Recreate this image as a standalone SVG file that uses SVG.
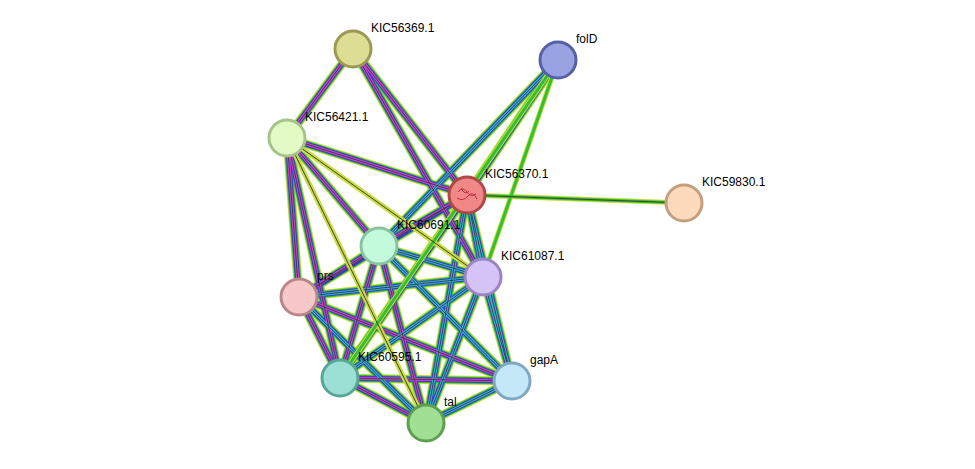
<svg xmlns="http://www.w3.org/2000/svg" xmlns:xlink="http://www.w3.org/1999/xlink" width="975" height="469" viewBox="0 0 975 469">
<style>
.n{stroke-width:3}
text{font-family:"Liberation Sans",Arial,sans-serif;font-size:12px;fill:#000}
use{fill:none}
.y{stroke:#c8dc3c;stroke-width:9}
.g{stroke:#30c030;stroke-width:7}
.b{stroke:#3838d0;stroke-width:5}
.m{stroke:#d040d0;stroke-width:3}
.k{stroke:#404040;stroke-width:1}
.c{stroke:#30b8d8;stroke-width:3}
.ly{stroke:#c8dc3c;stroke-width:5}
.lg{stroke:#30c030;stroke-width:3}
</style>
<defs>
<path id="a1" d="M353,49L287,138"/>
<path id="a2" d="M353,49L467,195"/>
<path id="a3" d="M353,49L483,277"/>
<path id="a4" d="M558,60L467,195"/>
<path id="a5" d="M558,60L379,246"/>
<path id="a6" d="M287,138L467,195"/>
<path id="a7" d="M287,138L379,246"/>
<path id="a8" d="M287,138L299,297"/>
<path id="a9" d="M287,138L340,378"/>
<path id="a10" d="M467,195L379,246"/>
<path id="a11" d="M467,195L483,277"/>
<path id="a12" d="M467,195L299,297"/>
<path id="a13" d="M467,195L340,378"/>
<path id="a14" d="M467,195L426,423"/>
<path id="a15" d="M467,195L512,381"/>
<path id="a16" d="M379,246L483,277"/>
<path id="a17" d="M379,246L299,297"/>
<path id="a18" d="M379,246L340,378"/>
<path id="a19" d="M379,246L426,423"/>
<path id="a20" d="M379,246L512,381"/>
<path id="a21" d="M483,277L299,297"/>
<path id="a22" d="M483,277L340,378"/>
<path id="a23" d="M483,277L426,423"/>
<path id="a24" d="M483,277L512,381"/>
<path id="a25" d="M299,297L340,378"/>
<path id="a26" d="M299,297L426,423"/>
<path id="a27" d="M299,297L512,381"/>
<path id="a28" d="M340,378L512,381"/>
<path id="a29" d="M340,378L426,423"/>
<path id="a30" d="M426,423L512,381"/>
<path id="b1" d="M558,60L483,277"/>
<path id="b2" d="M287,138L483,277"/>
<path id="b3" d="M467,195L684,203"/>
<path id="b4" d="M287,138L426,423"/>
<path id="b5" d="M558,60L340,378"/>
</defs>
<g id="connectors">
<g class="y"><use href="#a1"/><use href="#a2"/><use href="#a3"/><use href="#a4"/><use href="#a5"/><use href="#a6"/><use href="#a7"/><use href="#a8"/><use href="#a9"/><use href="#a10"/><use href="#a11"/><use href="#a12"/><use href="#a13"/><use href="#a14"/><use href="#a15"/><use href="#a16"/><use href="#a17"/><use href="#a18"/><use href="#a19"/><use href="#a20"/><use href="#a21"/><use href="#a22"/><use href="#a23"/><use href="#a24"/><use href="#a25"/><use href="#a26"/><use href="#a27"/><use href="#a28"/><use href="#a29"/><use href="#a30"/></g>
<g class="g"><use href="#a1"/><use href="#a2"/><use href="#a3"/><use href="#a4"/><use href="#a5"/><use href="#a6"/><use href="#a7"/><use href="#a8"/><use href="#a9"/><use href="#a10"/><use href="#a11"/><use href="#a12"/><use href="#a13"/><use href="#a14"/><use href="#a15"/><use href="#a16"/><use href="#a17"/><use href="#a18"/><use href="#a19"/><use href="#a20"/><use href="#a21"/><use href="#a22"/><use href="#a23"/><use href="#a24"/><use href="#a25"/><use href="#a26"/><use href="#a27"/><use href="#a28"/><use href="#a29"/><use href="#a30"/></g>
<g class="b"><use href="#a1"/><use href="#a2"/><use href="#a3"/><use href="#a4"/><use href="#a5"/><use href="#a6"/><use href="#a7"/><use href="#a8"/><use href="#a9"/><use href="#a10"/><use href="#a11"/><use href="#a12"/><use href="#a13"/><use href="#a14"/><use href="#a15"/><use href="#a16"/><use href="#a17"/><use href="#a18"/><use href="#a19"/><use href="#a20"/><use href="#a21"/><use href="#a22"/><use href="#a23"/><use href="#a24"/><use href="#a25"/><use href="#a26"/><use href="#a27"/><use href="#a28"/><use href="#a29"/><use href="#a30"/></g>
<g class="m"><use href="#a1"/><use href="#a2"/><use href="#a3"/><use href="#a6"/><use href="#a7"/><use href="#a8"/><use href="#a9"/><use href="#a10"/><use href="#a17"/><use href="#a18"/><use href="#a19"/><use href="#a25"/><use href="#a27"/><use href="#a28"/><use href="#a29"/></g>
<g class="c"><use href="#a4"/><use href="#a5"/><use href="#a11"/><use href="#a14"/><use href="#a15"/><use href="#a16"/><use href="#a20"/><use href="#a21"/><use href="#a22"/><use href="#a23"/><use href="#a24"/><use href="#a26"/><use href="#a30"/></g>
<g class="k"><use href="#a1"/><use href="#a2"/><use href="#a3"/><use href="#a4"/><use href="#a5"/><use href="#a6"/><use href="#a7"/><use href="#a8"/><use href="#a9"/><use href="#a10"/><use href="#a11"/><use href="#a12"/><use href="#a13"/><use href="#a14"/><use href="#a15"/><use href="#a16"/><use href="#a17"/><use href="#a18"/><use href="#a19"/><use href="#a20"/><use href="#a21"/><use href="#a22"/><use href="#a23"/><use href="#a24"/><use href="#a25"/><use href="#a26"/><use href="#a27"/><use href="#a28"/><use href="#a29"/><use href="#a30"/></g>
<g class="ly"><use href="#b1"/><use href="#b2"/><use href="#b3"/><use href="#b4"/><use href="#b5"/></g>
<g class="lg"><use href="#b1"/><use href="#b3"/><use href="#b5"/></g>
<g class="k"><use href="#b2"/><use href="#b3"/><use href="#b4"/></g>
</g>
<g id="KIC56369.1"><circle class="n" cx="353" cy="49" r="18" fill="#dedd94" stroke="#9a9a55"/><text x="371" y="32">KIC56369.1</text></g>
<g id="folD"><circle class="n" cx="558" cy="60" r="18" fill="#9aa3e2" stroke="#5560a8"/><text x="576" y="43">folD</text></g>
<g id="KIC56421.1"><circle class="n" cx="287" cy="138" r="18" fill="#e2fac4" stroke="#a6c48a"/><text x="305" y="121">KIC56421.1</text></g>
<g id="KIC56370.1"><circle class="n" cx="467" cy="195" r="18" fill="#f08888" stroke="#b04848"/><path d="M458,192q5,-6 9,0t9,2M457,198q6,4 11,-2t9,3M461,188q4,8 8,3" fill="none" stroke="#b83040" stroke-width="1"/><text x="485" y="178">KIC56370.1</text></g>
<g id="KIC59830.1"><circle class="n" cx="684" cy="203" r="18" fill="#fcdabb" stroke="#c0a080"/><text x="702" y="186">KIC59830.1</text></g>
<g id="KIC60691.1"><circle class="n" cx="379" cy="246" r="18" fill="#c4fadc" stroke="#88c4a0"/><text x="397" y="229">KIC60691.1</text></g>
<g id="KIC61087.1"><circle class="n" cx="483" cy="277" r="18" fill="#d4c4f8" stroke="#9a84c4"/><text x="501" y="260">KIC61087.1</text></g>
<g id="prs"><circle class="n" cx="299" cy="297" r="18" fill="#f8c8c8" stroke="#b88888"/><text x="317" y="280">prs</text></g>
<g id="KIC60595.1"><circle class="n" cx="340" cy="378" r="18" fill="#9cdfd4" stroke="#56a896"/><text x="358" y="361">KIC60595.1</text></g>
<g id="gapA"><circle class="n" cx="512" cy="381" r="18" fill="#c4e8f8" stroke="#80a8c0"/><text x="530" y="364">gapA</text></g>
<g id="tal"><circle class="n" cx="426" cy="423" r="18" fill="#a0e094" stroke="#5ca050"/><text x="444" y="406">tal</text></g>
</svg>
